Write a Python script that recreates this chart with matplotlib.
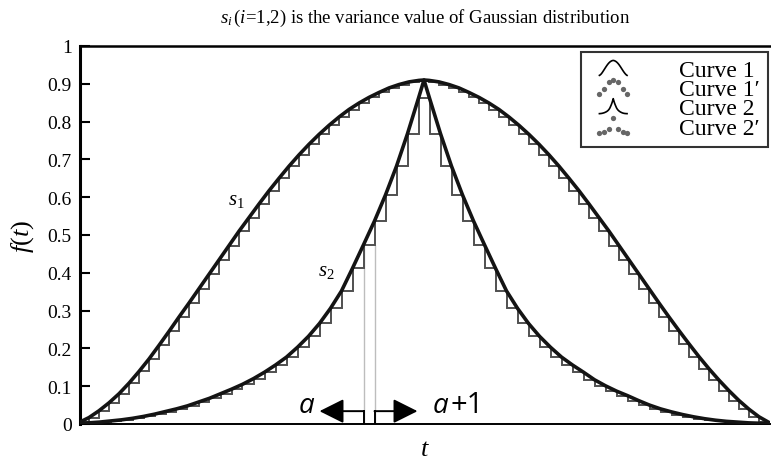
import numpy as np
import matplotlib
matplotlib.use("Agg")
import matplotlib.pyplot as plt
from matplotlib.legend_handler import HandlerBase
from matplotlib.lines import Line2D

plt.rcParams["font.family"] = ["Liberation Serif", "DejaVu Serif"]
plt.rcParams["mathtext.fontset"] = "custom"
plt.rcParams["mathtext.rm"] = "Liberation Serif"
plt.rcParams["mathtext.it"] = "Liberation Serif:italic"

# t axis: one unit = width of one step of Curve 1'; Curve 2' steps are 1.1 units wide
PEAK = 0.91
T1 = np.arange(-34.5, 34.51, 1.0)            # step edges of Curve 1'
T2 = (np.arange(64) - 31.5) * 1.1            # step edges of Curve 2'

# f(t) of Curve 1 at the edges T1
F1 = [0.004, 0.017, 0.035, 0.056, 0.080, 0.108, 0.139, 0.172, 0.208, 0.245,
      0.283, 0.320, 0.358, 0.396, 0.434, 0.472, 0.510, 0.546, 0.582, 0.617,
      0.650, 0.682, 0.712, 0.740, 0.766, 0.790, 0.812, 0.832, 0.849, 0.864,
      0.877, 0.889, 0.898, 0.905, 0.909,
      0.909, 0.905, 0.898, 0.889, 0.877, 0.864, 0.849, 0.832, 0.812, 0.790,
      0.766, 0.740, 0.712, 0.682, 0.650, 0.617, 0.582, 0.546, 0.510, 0.472,
      0.434, 0.396, 0.358, 0.320, 0.283, 0.247, 0.212, 0.178, 0.146, 0.116,
      0.088, 0.062, 0.039, 0.019, 0.004]

# f(t) of Curve 2 at the edges T2
F2 = [0.001, 0.003, 0.005, 0.008, 0.011, 0.015, 0.020, 0.026, 0.033, 0.040,
      0.048, 0.058, 0.068, 0.080, 0.092, 0.105, 0.120, 0.137, 0.156, 0.177,
      0.203, 0.232, 0.266, 0.306, 0.352, 0.412, 0.474, 0.537, 0.606, 0.682,
      0.768, 0.862,
      0.862, 0.768, 0.682, 0.606, 0.537, 0.474, 0.412, 0.352, 0.306, 0.266,
      0.232, 0.203, 0.177, 0.156, 0.137, 0.117, 0.101, 0.087, 0.075, 0.062,
      0.050, 0.040, 0.032, 0.025, 0.019, 0.014, 0.010, 0.007, 0.005, 0.003,
      0.002, 0.001]

YTICKS = [0, 0.1, 0.2, 0.3, 0.4, 0.5, 0.6, 0.7, 0.8, 0.9, 1]
YTICK_LABELS = ["0", "0.1", "0.2", "0.3", "0.4", "0.5", "0.6", "0.7", "0.8", "0.9", "1"]
LABELS = ["Curve 1", "Curve 1\u2032", "Curve 2", "Curve 2\u2032"]
MARKED_STEP = 26        # step of Curve 2' between a and a+1
ARROW_Y = 0.034

F1 = np.array(F1)
F2 = np.array(F2)
# smooth curves run through the edge values plus the common peak
t1 = np.insert(T1, len(T1) // 2, 0.0)
f1 = np.insert(F1, len(F1) // 2, PEAK)
t2 = np.insert(T2, len(T2) // 2, 0.0)
f2 = np.insert(F2, len(F2) // 2, PEAK)
# each stair sits under the curve: lower of its two edge values
H1 = np.minimum(F1[:-1], F1[1:])
H2 = np.minimum(F2[:-1], F2[1:])

CURVE = "#141414"
STAIR = "#505050"


class ShapeHandler(HandlerBase):
    """legend glyph = the curve itself squeezed into the handle box"""
    def __init__(self, t, f, dots=False):
        super().__init__(xpad=0.45)
        self.t, self.f, self.dots = np.asarray(t), np.asarray(f), dots

    def create_artists(self, legend, orig_handle, xdescent, ydescent,
                       width, height, fontsize, trans):
        x = (self.t - self.t[0]) / (self.t[-1] - self.t[0]) * width - xdescent
        y = self.f / self.f.max() * height - ydescent
        if self.dots:
            idx = np.linspace(0, len(x) - 1, 7).round().astype(int)
            art = Line2D(x[idx], y[idx], ls="none", marker="o", ms=3.8,
                         color="#666666", mec="none")
        else:
            art = Line2D(x, y, color="black", lw=1.2)
        art.set_transform(trans)
        return [art]


fig = plt.figure(figsize=(7.71, 4.64), dpi=100)
ax = fig.add_axes([80 / 771, 39 / 464, 690 / 771, 378 / 464])

ax.stairs(H1, T1, baseline=None, color=STAIR, lw=1.4, zorder=2)
ax.stairs(H2, T2, baseline=None, color=STAIR, lw=1.4, zorder=2)
ax.plot(t1, f1, color=CURVE, lw=2.6, zorder=3)
ax.plot(t2, f2, color=CURVE, lw=2.6, zorder=3)

# the a .. a+1 step
e0, e1 = T2[MARKED_STEP], T2[MARKED_STEP + 1]
ax.vlines([e0, e1], 0, H2[MARKED_STEP], color="#bdbdbd", lw=1.0, zorder=1)
ax.plot([e0, e0], [0, ARROW_Y], color="black", lw=1.4, zorder=4)
ax.plot([e1, e1], [0, ARROW_Y], color="black", lw=1.4, zorder=4)
arrow = dict(arrowstyle="-|>,head_length=1.0,head_width=0.5", color="black",
             lw=1.4, mutation_scale=15, shrinkA=0, shrinkB=0)
ax.annotate("", xy=(e0 - 4.4, ARROW_Y), xytext=(e0, ARROW_Y), arrowprops=arrow)
ax.annotate("", xy=(e1 + 4.3, ARROW_Y), xytext=(e1, ARROW_Y), arrowprops=arrow)

ax.text(-11.7, 0.032, "a", fontsize=20, family="Open Sans", style="italic",
        ha="center", va="baseline")
a1 = ax.text(1.7, 0.032, "a", fontsize=20, family="Open Sans", style="italic",
             ha="center", va="baseline")
ax.annotate("+1", xy=(1, 0), xycoords=a1, xytext=(1, 0), textcoords="offset points",
            fontsize=21, family="Open Sans", ha="left", va="bottom")

ax.text(-18.8, 0.595, "$s_1$", fontsize=15, ha="center", va="center")
ax.text(-9.8, 0.407, "$s_2$", fontsize=15, ha="center", va="center")

ax.set_xlim(-34.4, 34.6)
ax.set_ylim(0, 1)
ax.set_xticks([])
ax.set_yticks(YTICKS)
ax.set_yticklabels(YTICK_LABELS)
ax.tick_params(axis="y", direction="in", length=7, width=1.5, labelsize=14, pad=6)
ax.spines["right"].set_visible(False)
ax.spines["top"].set_linewidth(1.8)
ax.spines["left"].set_linewidth(2.2)
ax.spines["bottom"].set_linewidth(1.4)

ax.set_ylabel("$f(t)$", fontsize=19, labelpad=8)
ax.set_xlabel("$t$", fontsize=19, labelpad=10)
fig.text(425 / 771, 1 - 18 / 464,
         r"$s_i\,(i$=1,2) is the variance value of Gaussian distribution",
         fontsize=13.5, ha="center", va="center")

handles = [Line2D([], []) for _ in LABELS]
hmap = {handles[0]: ShapeHandler(t1, f1),
        handles[1]: ShapeHandler(T1[:-1] + 0.5, H1, dots=True),
        handles[2]: ShapeHandler(t2, f2),
        handles[3]: ShapeHandler(T2[:-1] + 0.55, H2, dots=True)}
leg = ax.legend(handles, LABELS, handler_map=hmap, loc="upper right",
                bbox_to_anchor=(768 / 771, 1 - 53 / 464), bbox_transform=fig.transFigure,
                fontsize=17, handlelength=1.62, handleheight=0.6, handletextpad=2.2,
                labelspacing=-0.08, borderpad=0.35, borderaxespad=0, fancybox=False)
leg.get_frame().set_edgecolor("black")
leg.get_frame().set_linewidth(1.5)

fig.savefig("out.png", dpi=100)
